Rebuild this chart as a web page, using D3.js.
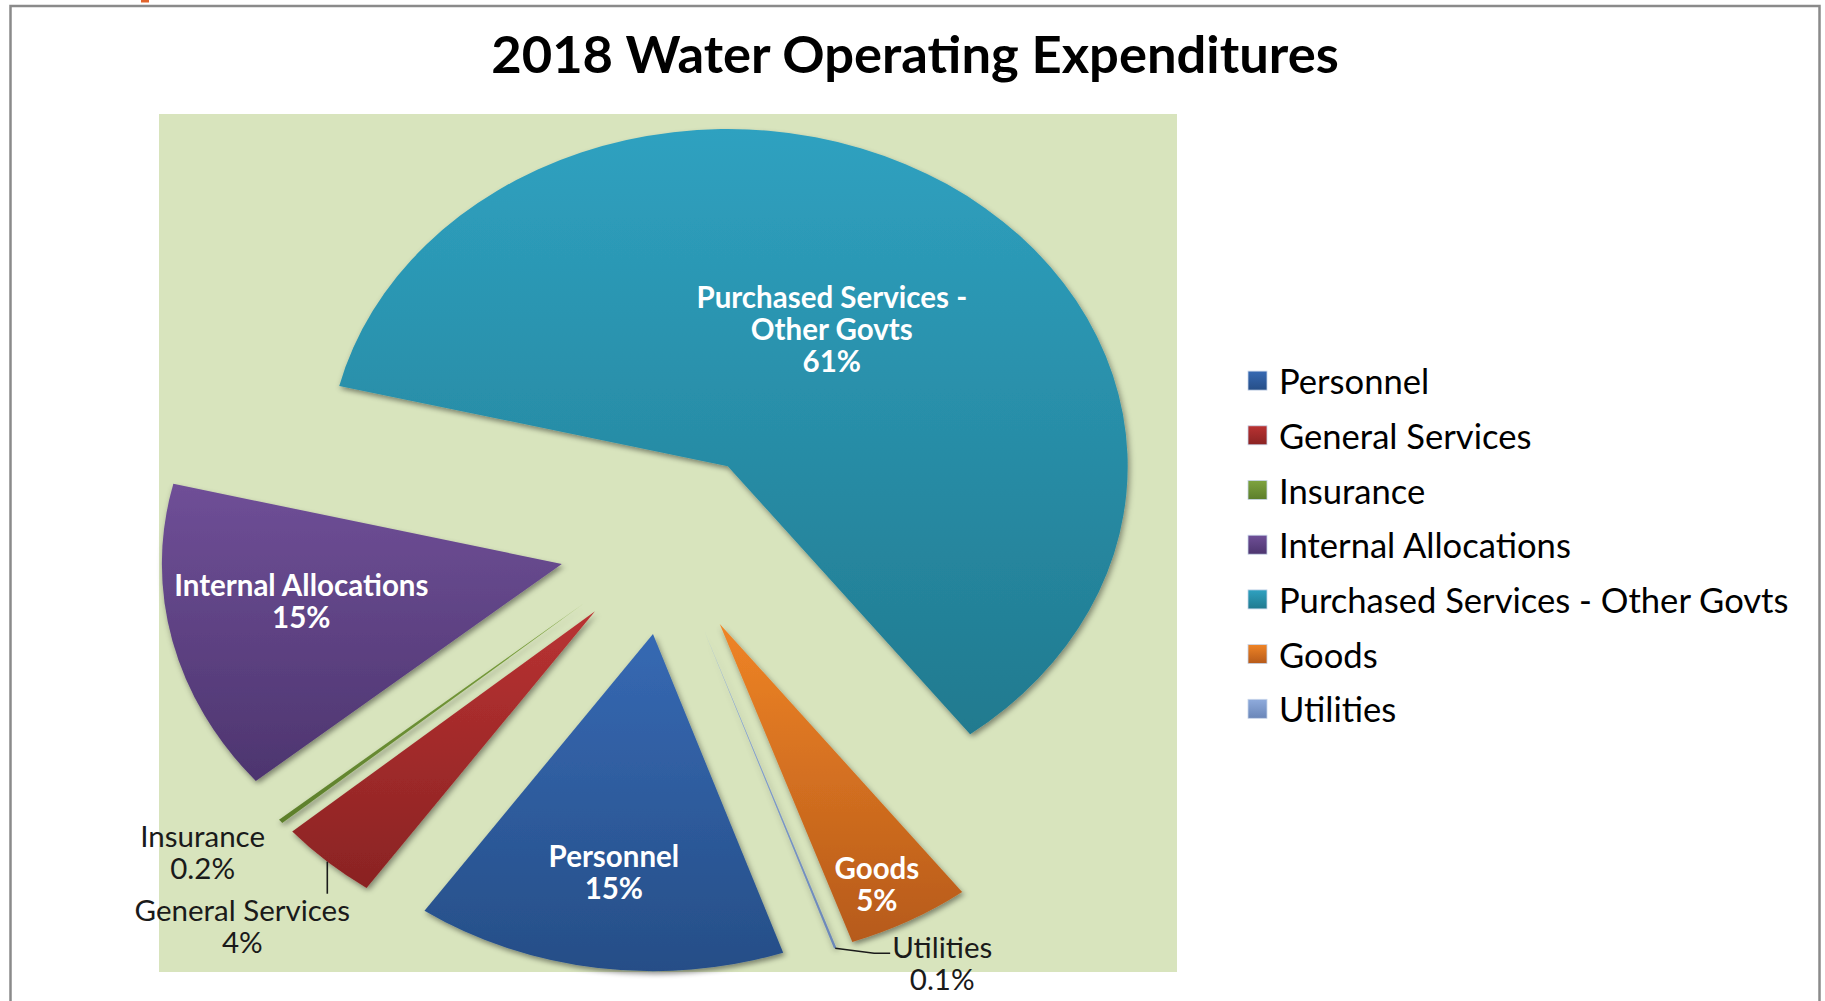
<!DOCTYPE html>
<html>
<head>
<meta charset="utf-8">
<script src="https://cdn.jsdelivr.net/npm/d3@7"></script>
<style>
  html, body { margin: 0; padding: 0; background: #fff; }
  svg { display: block; }
  text { font-family: Lato, "Open Sans", sans-serif; }
</style>
</head>
<body>
<svg id="chart" width="1825" height="1001"></svg>
<script>
// ---- data ----
const title = "2018 Water Operating Expenditures";
const categories = [
  "Personnel",
  "General Services",
  "Insurance",
  "Internal Allocations",
  "Purchased Services - Other Govts",
  "Goods",
  "Utilities"
];
const shares = [15, 4, 0.2, 15, 61, 5, 0.1];   // percent of total
const topColors    = ["#3669b3", "#b93232", "#7ea33f", "#6f4f97", "#2fa1c0", "#ef8426", "#8fabdc"];
const bottomColors = ["#264e87", "#8a2323", "#5c7e2b", "#4d356f", "#217a8f", "#b65a1a", "#6a86b8"];

// ---- layout ----
const svg = d3.select("#chart");
const plot = { x0: 159, y0: 114, x1: 1177, y1: 972 };
const cx = (plot.x0 + plot.x1) / 2;
const cy = (plot.y0 + plot.y1) / 2;
const stretchX = (plot.x1 - plot.x0) / (plot.y1 - plot.y0);
const explode = 0.2726;                                  // slice pull-out, fraction of radius
const R = (plot.y1 - plot.y0) / 2 / (1 + explode);
const pull = R * explode;
const startDeg = 161;
const rad = Math.PI / 180;

const fmtPct = v => (v < 1 ? d3.format(".1f")(v) : d3.format("d")(v)) + "%";

// how each data label is placed (r: radial fraction, da: angular nudge in degrees)
const labelPlacement = {
  "Personnel":                        { mode: "inside", r: 0.71, da: 0 },
  "General Services":                 { mode: "outside", dx: -85, dy: 64, leader: "drop" },
  "Insurance":                        { mode: "outside", dx: -78, dy: 30 },
  "Internal Allocations":             { mode: "inside", r: 0.66, da: 2.6 },
  "Purchased Services - Other Govts": { mode: "inside", r: 0.485, da: -0.5 },
  "Goods":                            { mode: "inside", r: 0.865, da: 1 },
  "Utilities":                        { mode: "outside", dx: 107, dy: 14, leader: "elbow" }
};

const rows = categories.map((name, i) => ({ name, value: shares[i], i }));
const pie = d3.pie()
  .sort(null)
  .value(d => d.value)
  .startAngle(startDeg * rad)
  .endAngle(startDeg * rad + 2 * Math.PI);
const slices = pie(rows);
const arc = d3.arc().innerRadius(0).outerRadius(R);
const mid = d => (d.startAngle + d.endAngle) / 2;
// page position at distance r from the pie centre along angle a
const polar = (a, r) => [cx + stretchX * r * Math.sin(a), cy - r * Math.cos(a)];

// ---- defs ----
const defs = svg.append("defs");
categories.forEach((c, i) => {
  const g = defs.append("linearGradient")
    .attr("id", "grad" + i)
    .attr("x1", 0).attr("y1", 0).attr("x2", 0).attr("y2", 1);
  g.append("stop").attr("offset", "0%").attr("stop-color", topColors[i]);
  g.append("stop").attr("offset", "100%").attr("stop-color", bottomColors[i]);
});
const shadow = defs.append("filter")
  .attr("id", "shadow")
  .attr("x", "-20%").attr("y", "-20%").attr("width", "140%").attr("height", "140%");
shadow.append("feDropShadow")
  .attr("dx", 1.5).attr("dy", 3).attr("stdDeviation", 2.6)
  .attr("flood-color", "#000").attr("flood-opacity", 0.42);

// ---- chart frame ----
svg.append("rect")
  .attr("x", 141).attr("y", 0).attr("width", 8).attr("height", 2.5)
  .attr("fill", "#e2642c");
svg.append("rect")
  .attr("x", 10.5).attr("y", 6).attr("width", 1809).attr("height", 1100)
  .attr("fill", "#fff").attr("stroke", "#8a8a8a").attr("stroke-width", 2.5);

// title
svg.append("text")
  .attr("x", 915).attr("y", 73)
  .attr("text-anchor", "middle")
  .attr("font-weight", 700)
  .attr("font-size", 52.5)
  .attr("fill", "#000")
  .text(title);

// plot area
svg.append("rect")
  .attr("x", plot.x0).attr("y", plot.y0)
  .attr("width", plot.x1 - plot.x0).attr("height", plot.y1 - plot.y0)
  .attr("fill", "#d8e4bd");

// ---- slices ----
const pieG = svg.append("g")
  .attr("transform", `translate(${cx},${cy}) scale(${stretchX},1)`);
pieG.selectAll("path")
  .data(slices)
  .join("path")
  .attr("transform", d => `translate(${pull * Math.sin(mid(d))},${-pull * Math.cos(mid(d))})`)
  .attr("d", arc)
  .attr("fill", d => `url(#grad${d.data.i})`)
  .attr("filter", "url(#shadow)");

// ---- data labels ----
const lineH = 32;
const labelSize = 29.5;
const labelLines = d => {
  const name = d.data.name;
  const parts = name.includes(" - ") ? [name.split(" - ")[0] + " -", name.split(" - ")[1]] : [name];
  return parts.concat(fmtPct(d.data.value));
};

const labelG = svg.append("g");
const leaderG = svg.append("g")
  .attr("fill", "none").attr("stroke", "#1a1a1a").attr("stroke-width", 1.6);

slices.forEach(d => {
  const p = labelPlacement[d.data.name];
  const lines = labelLines(d);
  const inside = p.mode === "inside";
  let center;
  if (inside) {
    center = polar(mid(d) + p.da * rad, pull + p.r * R);
  } else {
    const outer = polar(mid(d), pull + R);
    center = [outer[0] + p.dx, outer[1] + p.dy];
    const firstY = center[1] - (lines.length - 1) / 2 * lineH;
    if (p.leader === "drop") {
      leaderG.append("path")
        .attr("d", d3.line()([outer, [outer[0], firstY - 16]]));
    } else if (p.leader === "elbow") {
      const t = labelG.append("text").attr("font-size", labelSize).text(lines[0]);
      const w = t.node().getComputedTextLength();
      t.remove();
      const left = center[0] - w / 2 - 2;
      const y = firstY + 7;
      leaderG.append("path")
        .attr("d", d3.line()([outer, [left - 16, y], [left, y]]));
    }
  }
  const t = labelG.append("text")
    .attr("text-anchor", "middle")
    .attr("font-size", labelSize)
    .attr("font-weight", inside ? 700 : 400)
    .attr("fill", inside ? "#fff" : "#1a1a1a");
  lines.forEach((ln, k) => {
    t.append("tspan")
      .attr("x", center[0])
      .attr("y", center[1] + (k - (lines.length - 1) / 2) * lineH)
      .attr("dominant-baseline", "central")
      .text(ln);
  });
});

// ---- legend ----
const legend = svg.append("g").attr("transform", "translate(1248,380.6)");
const item = legend.selectAll("g")
  .data(categories)
  .join("g")
  .attr("transform", (d, i) => `translate(0,${i * 54.7})`);
item.append("rect")
  .attr("x", 0).attr("y", -9.5).attr("width", 19).attr("height", 19)
  .attr("fill", (d, i) => `url(#grad${i})`)
  .attr("stroke", "#c9d6ea").attr("stroke-width", 0.8);
item.append("text")
  .attr("x", 31).attr("y", 0)
  .attr("dominant-baseline", "central")
  .attr("font-size", 34.6)
  .attr("fill", "#000")
  .text(d => d);
</script>
</body>
</html>
